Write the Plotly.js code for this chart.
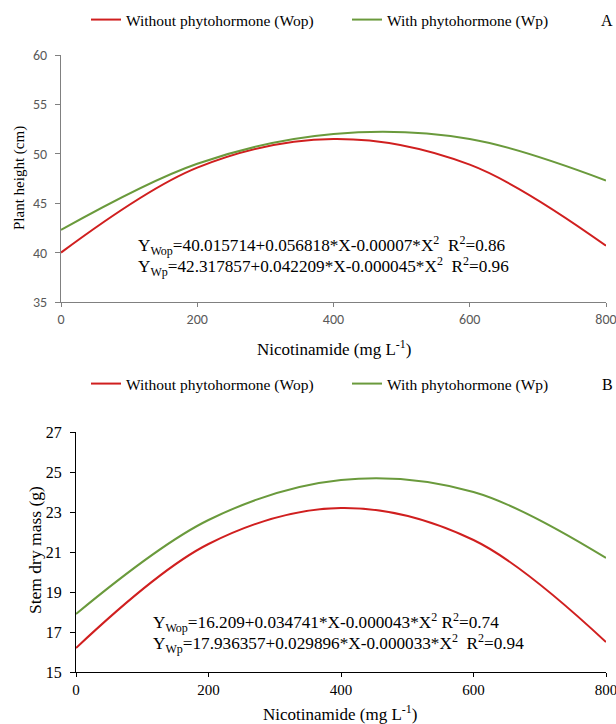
<!DOCTYPE html>
<html>
<head>
<meta charset="utf-8">
<script src="https://cdn.plot.ly/plotly-3.0.1.min.js"></script>
<style>html,body{margin:0;padding:0;background:#fff;overflow:hidden;width:616px;height:724px;}#chart{display:block;width:616px;height:724px;overflow:hidden;}</style>
</head>
<body>
<div id="chart"></div>
<script>
// Nicotinamide doses (mg L-1)
const doses = [0, 200, 400, 600, 800];
// Panel A: plant height (cm)
const heightWop = [40.0, 48.6, 51.5, 48.9, 40.7];
const heightWp  = [42.3, 49.0, 52.0, 51.5, 47.3];
// Panel B: stem dry mass (g)
const massWop = [16.2, 21.4, 23.2, 21.6, 16.5];
const massWp  = [17.9, 22.6, 24.6, 24.0, 20.7];
const seriesNames = ['Without phytohormone (Wop)', 'With phytohormone (Wp)'];
const xTicks = [0, 200, 400, 600, 800];
const yTicksA = [35, 40, 45, 50, 55, 60];
const yTicksB = [15, 17, 19, 21, 23, 25, 27];

const RED = '#D01F1F', GREEN = '#6A9A3C';
const SERIF = '"Liberation Serif", "Times New Roman", Times, serif';
const SANS = 'Carlito, Lato, "Liberation Sans", sans-serif';
const W = 616, H = 724;
const px = v => v / W, py = v => 1 - v / H;

const traces = [
  {x: doses, y: heightWop, name: seriesNames[0], xaxis: 'x', yaxis: 'y', legend: 'legend',
   mode: 'lines', line: {color: RED, width: 2, shape: 'spline', smoothing: 1}},
  {x: doses, y: heightWp, name: seriesNames[1], xaxis: 'x', yaxis: 'y', legend: 'legend',
   mode: 'lines', line: {color: GREEN, width: 2, shape: 'spline', smoothing: 1}},
  {x: doses, y: massWop, name: seriesNames[0], xaxis: 'x2', yaxis: 'y2', legend: 'legend2',
   mode: 'lines', line: {color: RED, width: 2, shape: 'spline', smoothing: 1}},
  {x: doses, y: massWp, name: seriesNames[1], xaxis: 'x2', yaxis: 'y2', legend: 'legend2',
   mode: 'lines', line: {color: GREEN, width: 2, shape: 'spline', smoothing: 1}}
];

const legendCommon = {
  orientation: 'h', xanchor: 'left', yanchor: 'middle',
  font: {family: SERIF, size: 15.5, color: '#000'},
  bgcolor: 'rgba(0,0,0,0)', entrywidth: 216, entrywidthmode: 'pixels',
  itemwidth: 30, tracegroupgap: 0
};

const eqFont = {family: SERIF, size: 17.2, color: '#000'};
const titleFont = {family: SERIF, size: 17, color: '#000'};

const layout = {
  width: W, height: H,
  margin: {l: 0, r: 0, t: 0, b: 0},
  paper_bgcolor: '#fff', plot_bgcolor: '#fff',
  showlegend: true,
  legend: Object.assign({x: px(86), y: py(20)}, legendCommon),
  legend2: Object.assign({x: px(86), y: py(384)}, legendCommon),
  xaxis: {
    domain: [px(61), px(606)], anchor: 'y', range: [0, 800],
    tickvals: xTicks, ticks: 'outside', ticklen: 4, tickcolor: '#808080',
    showline: true, linecolor: '#808080', linewidth: 1, showgrid: false, zeroline: false,
    ticklabeloverflow: 'allow',
    tickfont: {family: SANS, size: 14, color: '#595959'}
  },
  yaxis: {
    domain: [py(302), py(55)], anchor: 'x', range: [35, 60],
    tickvals: yTicksA, ticks: 'outside', ticklen: 5, tickcolor: '#808080', ticklabelstandoff: 5,
    showline: true, linecolor: '#808080', linewidth: 1, showgrid: false, zeroline: false,
    tickfont: {family: SANS, size: 14, color: '#595959'}
  },
  xaxis2: {
    domain: [px(76), px(606)], anchor: 'y2', range: [0, 800],
    tickvals: xTicks, ticks: 'outside', ticklen: 4, tickcolor: '#000',
    showline: true, linecolor: '#000', linewidth: 1, showgrid: false, zeroline: false,
    ticklabeloverflow: 'allow',
    tickfont: {family: SERIF, size: 15, color: '#000'}
  },
  yaxis2: {
    domain: [py(672), py(432)], anchor: 'x2', range: [15, 27],
    tickvals: yTicksB, ticks: 'outside', ticklen: 5, tickcolor: '#000', ticklabelstandoff: 5,
    showline: true, linecolor: '#000', linewidth: 1, showgrid: false, zeroline: false,
    tickfont: {family: SERIF, size: 16, color: '#000'}
  },
  annotations: [
    {text: 'A', x: px(607), y: py(20), xref: 'paper', yref: 'paper', showarrow: false,
     xanchor: 'center', yanchor: 'middle', font: {family: SERIF, size: 16, color: '#000'}},
    {text: 'B', x: px(607), y: py(384), xref: 'paper', yref: 'paper', showarrow: false,
     xanchor: 'center', yanchor: 'middle', font: {family: SERIF, size: 16, color: '#000'}},
    {text: 'Plant height (cm)', x: px(19), y: py(178), xref: 'paper', yref: 'paper', showarrow: false,
     textangle: -90, xanchor: 'center', yanchor: 'middle', font: {family: SERIF, size: 15, color: '#000'}},
    {text: 'Stem dry mass (g)', x: px(35), y: py(550), xref: 'paper', yref: 'paper', showarrow: false,
     textangle: -90, xanchor: 'center', yanchor: 'middle', font: {family: SERIF, size: 17.5, color: '#000'}},
    {text: 'Nicotinamide (mg L<sup>-1</sup>)', x: px(334), y: py(348), xref: 'paper', yref: 'paper', showarrow: false,
     xanchor: 'center', yanchor: 'middle', font: titleFont},
    {text: 'Nicotinamide (mg L<sup>-1</sup>)', x: px(340), y: py(713), xref: 'paper', yref: 'paper', showarrow: false,
     xanchor: 'center', yanchor: 'middle', font: titleFont},
    {text: 'Y<sub>Wop</sub>=40.015714+0.056818*X-0.00007*X<sup>2</sup>  R<sup>2</sup>=0.86',
     x: px(136), y: py(245), xref: 'paper', yref: 'paper', showarrow: false,
     xanchor: 'left', yanchor: 'middle', font: eqFont},
    {text: 'Y<sub>Wp</sub>=42.317857+0.042209*X-0.000045*X<sup>2</sup>  R<sup>2</sup>=0.96',
     x: px(136), y: py(266), xref: 'paper', yref: 'paper', showarrow: false,
     xanchor: 'left', yanchor: 'middle', font: eqFont},
    {text: 'Y<sub>Wop</sub>=16.209+0.034741*X-0.000043*X<sup>2</sup> R<sup>2</sup>=0.74',
     x: px(151), y: py(622), xref: 'paper', yref: 'paper', showarrow: false,
     xanchor: 'left', yanchor: 'middle', font: eqFont},
    {text: 'Y<sub>Wp</sub>=17.936357+0.029896*X-0.000033*X<sup>2</sup>  R<sup>2</sup>=0.94',
     x: px(151), y: py(643), xref: 'paper', yref: 'paper', showarrow: false,
     xanchor: 'left', yanchor: 'middle', font: eqFont}
  ]
};

Plotly.newPlot('chart', traces, layout, {displayModeBar: false, staticPlot: true});
</script>
</body>
</html>
